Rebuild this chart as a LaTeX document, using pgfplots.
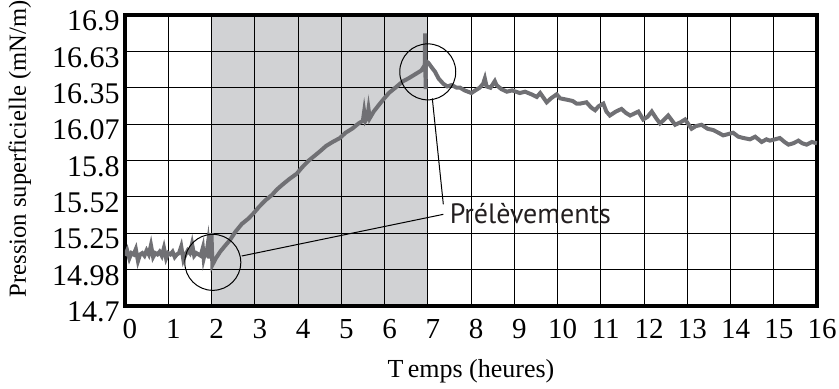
\documentclass[border=0pt]{standalone}
\usepackage{pgfplots}
\pgfplotsset{compat=1.18}
\usepackage{fontspec}
\setmainfont{Liberation Serif}
\newfontfamily\annotfont{PT Sans}

\definecolor{shade}{RGB}{209,210,212}
\definecolor{trace}{RGB}{112,112,116}
\definecolor{thin}{RGB}{100,100,100}

\begin{document}
\begin{tikzpicture}
\begin{axis}[
  name=ax,
  set layers,
  scale only axis,
  width=346pt, height=145.5pt,
  xmin=0, xmax=16, ymin=14.7, ymax=16.9,
  xtick={0,1,...,16},
  xticklabels={0,1,2,3,4,5,6,7,8,9,10,11,12,13,14,15,16},
  ytick={14.7,14.975,15.25,15.525,15.8,16.075,16.35,16.625,16.9},
  yticklabels={14.7,14.98,15.25,15.52,15.8,16.07,16.35,16.63,16.9},
  major tick length=0pt,
  grid=major,
  major grid style={black, line width=0.5pt},
  axis line style={black, line width=1.6pt},
  tick label style={text=black},
  xticklabel style={font=\fontsize{14.5}{16}\selectfont, yshift=-3pt, xshift=2.5pt},
  yticklabel style={font=\fontsize{15}{16}\selectfont, yshift=-3pt, inner sep=2.5pt},
  xlabel={T\,emps (heures)},
  xlabel style={at={(axis description cs:0.5,-0.225)}, anchor=center, font=\fontsize{13}{15}\selectfont},
  ylabel={Pression superficielle (mN/m)},
  ylabel style={at={(axis description cs:-0.152,0.54)}, anchor=center, font=\fontsize{12.3}{14}\selectfont},
]

% zone grisee (periode de prelevement)
\addplot[fill=shade, draw=none, on layer=axis background]
  coordinates {(2,14.7) (2,16.9) (7,16.9) (7,14.7)};

% mesure
\addplot[trace, line width=2pt, line join=miter, mark=none] coordinates {
  (0,15.08) (0.05,15.12) (0.1,15.06) (0.15,15.10) (0.2,15.09) (0.25,15.13)
  (0.3,15.04) (0.35,15.09) (0.4,15.10) (0.45,15.08) (0.5,15.12) (0.55,15.09)
  (0.6,15.16) (0.65,15.07) (0.7,15.10) (0.75,15.09) (0.8,15.11) (0.85,15.08)
  (0.9,15.14) (0.95,15.06) (1.0,15.10) (1.05,15.09) (1.1,15.11) (1.15,15.07)
  (1.2,15.09) (1.25,15.10) (1.3,15.15) (1.35,15.05) (1.4,15.09) (1.45,15.12)
  (1.5,15.10) (1.55,15.17) (1.6,15.08) (1.65,15.10) (1.7,15.09) (1.75,15.08)
  (1.8,15.14) (1.82,15.06) (1.85,15.10) (1.88,15.09) (1.92,15.18) (1.95,15.06)
  (1.98,15.20) (2.0,15.25) (2.02,15.01)
  (2.1,15.06) (2.2,15.11) (2.3,15.15) (2.43,15.20) (2.55,15.26) (2.7,15.32)
  (2.85,15.36) (2.97,15.40) (3.1,15.45) (3.25,15.50) (3.4,15.54) (3.51,15.58)
  (3.65,15.62) (3.8,15.66) (3.97,15.70) (4.1,15.75) (4.25,15.80) (4.4,15.84)
  (4.51,15.87) (4.65,15.91) (4.8,15.94) (4.97,15.97) (5.1,16.01) (5.25,16.04)
  (5.4,16.08) (5.5,16.10) (5.53,16.17) (5.56,16.10) (5.6,16.12) (5.63,16.19)
  (5.66,16.12) (5.75,16.17) (5.87,16.22) (5.97,16.26) (6.1,16.31) (6.25,16.35)
  (6.43,16.40) (6.55,16.42) (6.7,16.45) (6.85,16.48) (6.93,16.52)
  (6.94,16.76) (6.95,16.34) (6.96,16.55)
  (7.01,16.54) (7.1,16.50) (7.17,16.47) (7.25,16.42) (7.36,16.38) (7.45,16.36)
  (7.55,16.37) (7.67,16.35) (7.75,16.35) (7.85,16.33) (8.01,16.31) (8.1,16.33)
  (8.2,16.35) (8.28,16.38) (8.32,16.42) (8.36,16.36) (8.45,16.35) (8.55,16.40)
  (8.59,16.37) (8.7,16.34) (8.83,16.32) (8.95,16.33) (9.13,16.31) (9.25,16.32)
  (9.4,16.30) (9.52,16.28) (9.6,16.31) (9.75,16.24) (9.85,16.27) (9.98,16.30)
  (10.06,16.27) (10.21,16.26) (10.35,16.25) (10.44,16.23) (10.52,16.23)
  (10.67,16.24) (10.78,16.20) (10.87,16.18) (10.95,16.21) (11.06,16.23)
  (11.13,16.17) (11.21,16.14) (11.35,16.17) (11.48,16.19) (11.58,16.16)
  (11.68,16.14) (11.87,16.17) (11.98,16.11) (12.08,16.13) (12.18,16.17)
  (12.28,16.12) (12.37,16.08) (12.47,16.11) (12.56,16.14) (12.72,16.07)
  (12.85,16.09) (12.95,16.11) (13.1,16.04) (13.2,16.06) (13.33,16.07)
  (13.47,16.04) (13.6,16.03) (13.72,16.01) (13.83,15.99) (13.95,16.00)
  (14.06,16.01) (14.18,15.98) (14.3,15.97) (14.45,15.96) (14.57,15.98)
  (14.72,15.94) (14.83,15.96) (14.91,15.95) (15.03,15.96) (15.14,15.97)
  (15.25,15.94) (15.34,15.92) (15.45,15.93) (15.57,15.95) (15.66,15.93)
  (15.76,15.92) (15.88,15.94) (16.0,15.93)
};

% annotations
\draw[thin, line width=0.5pt] (axis cs:2.03,15.03) circle[radius=14pt];
\draw[thin, line width=0.5pt] (axis cs:7.0,16.47) circle[radius=14pt];
\draw[thin, line width=0.5pt] (axis cs:2.70,15.078) -- (axis cs:7.36,15.393);
\draw[thin, line width=0.5pt] (axis cs:7.105,16.27) -- (axis cs:7.36,15.469);
\node[anchor=base west, inner sep=0pt, text={rgb,255:red,35;green,31;blue,32}]
  at (axis cs:7.5,15.325) {\annotfont\fontsize{14}{16}\selectfont Prélèvements};
\end{axis}
\pgfresetboundingbox
\path[use as bounding box] ([shift={(-62.5pt,-41.5pt)}]ax.south west) rectangle ([shift={(11pt,7.5pt)}]ax.north east);
\end{tikzpicture}
\end{document}
